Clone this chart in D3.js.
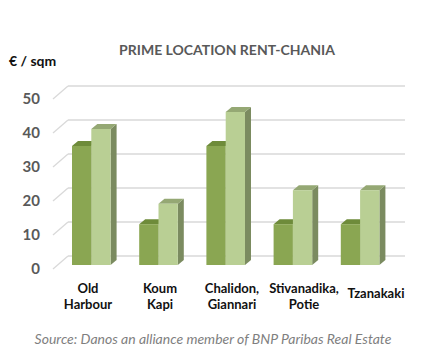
<!DOCTYPE html>
<html><head><meta charset="utf-8">
<script src="https://cdn.jsdelivr.net/npm/d3@7"></script>
<style>
html,body{margin:0;padding:0;background:#fff;}
svg{display:block;}
</style></head>
<body>
<script>
const categories = [["Old","Harbour"],["Koum","Kapi"],["Chalidon,","Giannari"],["Stivanadika,","Potie"],["Tzanakaki"]];
const catKeys = ["Old Harbour","Koum Kapi","Chalidon, Giannari","Stivanadika, Potie","Tzanakaki"];
const seriesA = [35, 12, 35, 12, 12];
const seriesB = [40, 18, 45, 22, 22];
const yTicks = [0, 10, 20, 30, 40, 50];
const title = "PRIME LOCATION RENT-CHANIA";
const unitLabel = "€ / sqm";
const source = "Source: Danos an alliance member of BNP Paribas Real Estate";

const W = 423, H = 358;
const svg = d3.select("body").append("svg").attr("width", W).attr("height", H);
const font = "Lato, 'Open Sans', sans-serif";

// planes
const frontBase = 269, backBase = 256, barBase = 265;
const plotH = 170;
const wallLeftFront = 53, wallLeftBack = 68, wallRightBack = 405;
const y = d3.scaleLinear().domain([0, 50]).range([plotH, 0]);

// gridlines (back wall + left side diagonal)
const g = svg.append("g");
yTicks.forEach(t => {
  const yb = backBase - plotH + y(t);
  const yf = frontBase - plotH + y(t);
  g.append("line").attr("x1", wallLeftBack).attr("x2", wallRightBack).attr("y1", yb).attr("y2", yb)
    .attr("stroke", "#d9d9d9").attr("stroke-width", 1.3);
  g.append("line").attr("x1", wallLeftFront).attr("x2", wallLeftBack).attr("y1", yf).attr("y2", yb)
    .attr("stroke", "#d9d9d9").attr("stroke-width", 1.3);
  svg.append("text").attr("x", 40).attr("y", yf + 1).attr("text-anchor", "end")
    .attr("dominant-baseline", "middle")
    .attr("font-family", font).attr("font-weight", "bold").attr("font-size", 15)
    .attr("fill", "#595959").text(t);
});

// bars
const x = d3.scaleBand().domain(catKeys).range([72, 379.4]).paddingInner(0.4256).paddingOuter(0);
const xs = d3.scaleBand().domain(["A","B"]).range([0, x.bandwidth()]);
const ddx = 6, ddy = -5;
const colors = {
  A: {front: "#8aa652", top: "#6e8b3a", side: "#6b8040"},
  B: {front: "#b9cf94", top: "#95a874", side: "#7b8b60"}
};
const barG = svg.append("g");
catKeys.forEach((c, i) => {
  [["A", seriesA[i]], ["B", seriesB[i]]].forEach(([k, v]) => {
    const x0 = x(c) + xs(k), w = xs.bandwidth();
    const yt = barBase - plotH + y(v);
    const col = colors[k];
    barG.append("path").attr("d", `M${x0+w},${yt}L${x0+w+ddx},${yt+ddy}L${x0+w+ddx},${barBase+ddy}L${x0+w},${barBase}Z`)
      .attr("fill", col.side);
    barG.append("path").attr("d", `M${x0},${yt}L${x0+ddx},${yt+ddy}L${x0+w+ddx},${yt+ddy}L${x0+w},${yt}Z`)
      .attr("fill", col.top);
    barG.append("rect").attr("x", x0).attr("y", yt).attr("width", w).attr("height", barBase - yt)
      .attr("fill", col.front);
  });
});

// category labels
const xl = d3.scalePoint().domain(catKeys).range([88, 376]);
catKeys.forEach((c, i) => {
  const lines = categories[i];
  const t = svg.append("text").attr("text-anchor", "middle")
    .attr("font-family", font).attr("font-weight", "bold").attr("font-size", 13).attr("fill", "#111");
  const y0 = lines.length === 1 ? 298 : 293;
  lines.forEach((ln, j) => {
    t.append("tspan").attr("x", xl(c)).attr("y", y0 + j * 16).text(ln);
  });
});

// title
svg.append("text").attr("x", 227).attr("y", 55).attr("text-anchor", "middle")
  .attr("font-family", font).attr("font-weight", "bold").attr("font-size", 14).attr("fill", "#595959")
  .text(title);
svg.append("text").attr("x", 9).attr("y", 66)
  .attr("font-family", font).attr("font-weight", "bold").attr("font-size", 14).attr("fill", "#111")
  .text(unitLabel);
svg.append("text").attr("x", 213).attr("y", 344).attr("text-anchor", "middle")
  .attr("font-family", font).attr("font-style", "italic").attr("font-size", 14).attr("fill", "#7f7f7f")
  .text(source);
</script>
</body></html>
